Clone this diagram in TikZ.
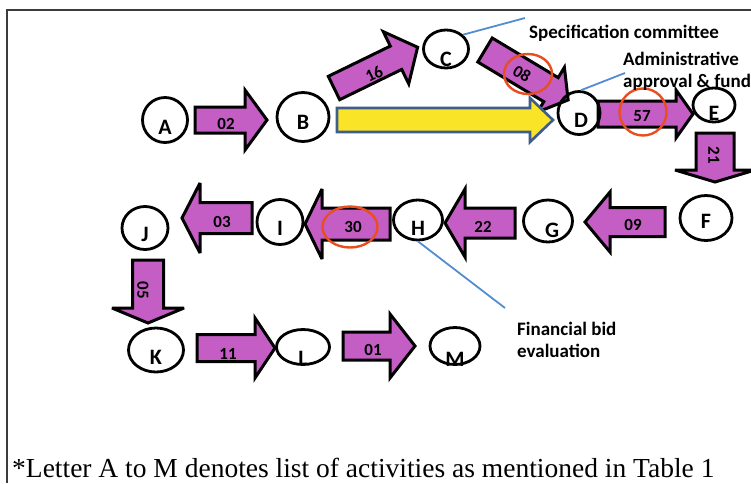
\documentclass[tikz,border=0pt]{standalone}
\usepackage{fontspec}
\setmainfont{Liberation Serif}
\newfontfamily\lblfont{Carlito}
\usetikzlibrary{shapes.geometric}

\definecolor{actpurple}{RGB}{196,94,196}
\definecolor{crityellow}{RGB}{250,228,40}
\definecolor{critedge}{RGB}{62,92,140}
\definecolor{leadblue}{RGB}{84,140,208}
\definecolor{hlred}{RGB}{232,78,32}
\definecolor{framegray}{RGB}{60,60,60}

\tikzset{
  pics/barrow/.style n args={4}{code={
    \path[pic actions] (0,-#2) -- (#1-#4,-#2) -- (#1-#4,-#3) -- (#1,0)
      -- (#1-#4,#3) -- (#1-#4,#2) -- (0,#2) -- cycle;
  }},
}

\begin{document}
\begin{tikzpicture}[x=1pt,y=-1pt,
  act/.style={ellipse, draw, line width=2.8pt, inner sep=0pt},
  lett/.style={font=\lblfont\bfseries\fontsize{22}{22}\selectfont, inner sep=0pt},
  blk/.style={draw=black, fill=actpurple, line width=3pt, miter limit=4},
  yel/.style={draw=critedge, fill=crityellow, line width=2.6pt},
  num/.style={font=\lblfont\bfseries\fontsize{17}{17}\selectfont, inner sep=0pt},
  hl/.style={ellipse, draw=hlred, line width=2.4pt, inner sep=0pt},
  lead/.style={draw=leadblue, line width=1.8pt},
  note/.style={font=\lblfont\bfseries\fontsize{19}{22}\selectfont, inner sep=0pt, anchor=base west},
  foot/.style={font=\fontsize{27.5}{30}\selectfont, inner sep=0pt, anchor=base west},
]
\useasboundingbox (0,0) rectangle (751,483);
\draw[framegray, line width=1.5pt] (751,10) -- (7,10) -- (7,483);

% block arrows
\pic[blk] at (195,120) {barrow={72}{13}{30}{22}};
\pic[blk, rotate=26] at (334,88) {barrow={93}{13}{29}{24}};
\pic[blk, rotate=-31] at (485,50) {barrow={97}{14}{26}{20}};
\pic[yel] at (337,120) {barrow={216}{12}{22}{23}};
\pic[blk] at (598,114) {barrow={95}{13}{24}{17}};
\pic[blk, rotate=-90] at (715,133) {barrow={49}{19}{40}{12}};
\pic[blk, rotate=180] at (665,222) {barrow={80}{14.5}{30}{25}};
\pic[blk, rotate=180] at (515,223) {barrow={70}{15}{34}{20}};
\pic[blk, rotate=180] at (390,224) {barrow={85}{16}{35}{17}};
\pic[blk, rotate=180] at (252,218) {barrow={70}{15.5}{35}{18}};
\pic[blk, rotate=-90] at (148,260) {barrow={63}{15.5}{36}{15}};
\pic[blk] at (197,348) {barrow={78}{13.5}{30}{20}};
\pic[blk] at (343,346) {barrow={72}{14}{32}{25}};

% activities
\node[act, minimum width=45, minimum height=45, label={[lett, yshift=-7pt]center:A}] (A) at (165,120) {};
\node[act, minimum width=52, minimum height=49, label={[lett, yshift=-5.5pt]center:B}] (B) at (303,117) {};
\node[act, minimum width=45, minimum height=38, label={[lett, yshift=-10pt]center:C}] (C) at (446,49) {};
\node[act, minimum width=42, minimum height=43, label={[lett, xshift=2pt, yshift=-7.5pt]center:D}] (D) at (579,113) {};
\node[act, minimum width=42, minimum height=34, label={[lett, yshift=-8pt]center:E}] (E) at (714,105) {};
\node[act, minimum width=52, minimum height=45, label={[lett, yshift=-3.5pt]center:F}] (F) at (706,218) {};
\node[act, minimum width=49, minimum height=42, label={[lett, xshift=4pt, yshift=-9pt]center:G}] (G) at (548,221) {};
\node[act, minimum width=49, minimum height=40, label={[lett, yshift=-8pt]center:H}] (H) at (418,220) {};
\node[act, minimum width=46, minimum height=45, label={[lett, yshift=-6pt]center:I}] (I) at (280,222) {};
\node[act, minimum width=46, minimum height=43, label={[lett, yshift=-6pt]center:J}] (J) at (145,228) {};
\node[act, minimum width=55, minimum height=44, label={[lett, yshift=-7pt]center:K}] (K) at (156,350) {};
\node[act, minimum width=53, minimum height=35, label={[lett, yshift=-11pt]center:L}] (L) at (303,347) {};
\node[act, minimum width=50, minimum height=37, label={[lett, yshift=-13pt]center:M}] (M) at (455,346) {};

% durations
\node[num] (dAB) at (226,124) {02};
\node[num, rotate=26] (dBC) at (374,74) {16};
\node[num, rotate=-31] (dCD) at (522,74) {08};
\node[num] (dDE) at (642,116) {57};
\node[num, rotate=-90] (dEF) at (714,155) {21};
\node[num] (dFG) at (633,225) {09};
\node[num] (dGH) at (483,227) {22};
\node[num] (dHI) at (353,227) {30};
\node[num] (dIJ) at (222,222) {03};
\node[num, rotate=-90] (dJK) at (143,290) {05};
\node[num] (dKL) at (228,354) {11};
\node[num] (dLM) at (373,350) {01};

% marked durations
\node[hl, minimum width=48, minimum height=40] (rCD) at (528,74) {};
\node[hl, minimum width=47, minimum height=47] (rDE) at (643,112) {};
\node[hl, minimum width=55, minimum height=41] (rHI) at (350,227) {};

% notes
\node[note] (spec) at (529,38) {Specification committee};
\node[note] (adm) at (623,65) {Administrative};
\node[note] (apr) at (623,87) {approval \& fund};
\node[note] (fin) at (517,335) {Financial bid};
\node[note] (evl) at (517,357) {evaluation};
\coordinate (cs) at (525,18);
\coordinate (da) at (625,73);
\coordinate (hf) at (505,308);
\draw[lead] (C.40) -- (cs);
\draw[lead] (D.85) -- (da);
\draw[lead] (H.south) -- (hf);

\node[foot] (foot) at (12,477) {*Letter A to M denotes list of activities as mentioned in Table 1};
\end{tikzpicture}
\end{document}
